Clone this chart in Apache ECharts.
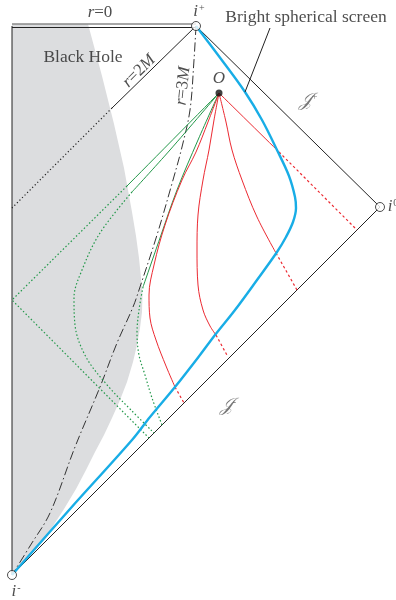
<!DOCTYPE html>
<html>
<head>
<meta charset="utf-8">
<script src="https://cdn.jsdelivr.net/npm/echarts@6/dist/echarts.min.js"></script>
<style>
  html, body { margin: 0; padding: 0; background: #fff; }
  #chart { width: 396px; height: 600px; }
</style>
</head>
<body>
<div id="chart"></div>
<script>
// Penrose diagram of a collapsing star: plane coordinates (x right, y down)

// corners of the conformal diagram
const iPlus = [196, 26];
const iZero = [380, 207];
const iMinus = [12, 575];
const observer = [219, 93];

// boundaries
const centreLine = [[12, 26], [12, 575]];
const singularityUpper = [[12, 24], [196, 24]];
const singularityLower = [[12, 27.5], [196, 27.5]];
const scriPlus = [[196, 26], [380, 207]];
const scriMinus = [[380, 207], [12, 575]];

// star interior (shaded)
const starRegion = [
  [12, 24], [88, 24], [95, 50], [102, 76], [108, 100], [114, 124], [119, 146],
  [124, 168], [128, 190], [132, 212], [136, 236], [139, 258], [141, 278],
  [142.5, 295], [142, 312], [140, 328], [137, 345], [133, 362], [127, 382],
  [120, 400], [112, 418], [104, 435], [95, 452], [86, 470], [76, 489],
  [64, 509], [51, 529], [38, 546], [26, 558], [18, 567], [12, 575]
];

// horizon r = 2M
const horizonOutside = [[196, 26], [112, 108]];
const horizonInside = [[112, 108], [12, 208]];

// photon sphere r = 3M
const photonSphere = [
  [196, 26], [194, 60], [190, 110], [182, 147], [173, 180], [157, 235],
  [140, 287], [133, 307], [117, 343], [100, 387], [75, 447], [50, 513],
  [30, 546], [12, 575]
];

// bright spherical screen
const screenPath = [
  [196, 26], [221, 59], [245, 92], [262, 120], [277, 150], [289, 176],
  [295, 197], [296, 208], [293, 222], [286, 237], [277, 252], [257, 280],
  [235, 310], [215, 335], [200, 355], [175, 387], [150, 417], [132, 440],
  [70, 509], [12, 575]
];

// light rays reaching the observer from the screen (red)
const redRays = [
  { solid: [[219, 93], [279, 152]], dotted: [[279, 152], [357, 230]] },
  { solid: [[219, 93], [226, 122], [232, 150], [242, 180], [257, 217], [276, 253]],
    dotted: [[276, 253], [297, 290]] },
  { solid: [[219, 93], [214, 120], [209, 150], [203, 180], [198, 215], [197, 250],
            [198, 285], [203, 310], [210, 326], [216, 335]],
    dotted: [[216, 335], [228, 357]] },
  { solid: [[219, 93], [208, 122], [196, 152], [182, 180], [165, 225], [154, 265],
            [149, 295], [150, 318], [156, 340], [166, 366], [175, 387]],
    dotted: [[175, 387], [184, 403]] }
];

// light rays passing through the star (green)
const greenRays = [
  { solid: [[219, 93], [127, 186]], dotted: [[127, 186], [12, 300], [149, 438]], smooth: false },
  { solid: [[219, 93], [170, 150], [132, 192]],
    dotted: [[132, 192], [100, 233], [82, 270], [74, 298], [75, 325], [86, 357],
             [108, 386], [131, 410], [154, 433]], smooth: true },
  { solid: [[219, 93], [198, 140], [177, 190], [160, 238], [143, 287]],
    dotted: [[143, 287], [139, 310], [137, 333], [139, 355], [145, 375],
             [152, 398], [162, 425]], smooth: true }
];

// pointer from the caption to the screen
const pointer = [[270, 28], [245, 92]];

const serif = '"Liberation Serif", "DejaVu Serif", serif';
const RED = '#ec2a32';
const GREEN = '#23984a';
const BLUE = '#18ade6';

function path(data, color, width, type, smooth, z) {
  return {
    type: 'line', data: data, symbol: 'none', silent: true,
    smooth: smooth ? 0.35 : false, z: z || 2,
    lineStyle: { color: color, width: width, type: type || 'solid', cap: 'butt' }
  };
}

const series = [];

// shaded star
series.push({
  type: 'custom', silent: true, z: 1,
  data: [[0, 0]],
  renderItem: function (params, api) {
    const pts = starRegion.map(function (p) { return api.coord(p); });
    return { type: 'polygon', shape: { points: pts }, style: { fill: '#dcdddf' } };
  }
});

series.push(path(singularityUpper, '#8a8a8a', 1.4));
series.push(path(singularityLower, '#222', 1));
series.push(path(centreLine, '#222', 1));
series.push(path(scriPlus, '#222', 1));
series.push(path(scriMinus, '#222', 1));
series.push(path(horizonOutside, '#222', 1));
series.push(path(horizonInside, '#222', 1.2, [1.2, 2.4]));
series.push(path(photonSphere, '#333', 1, [9, 3, 1.5, 3], true));

greenRays.forEach(function (r) {
  series.push(path(r.solid, GREEN, 1, 'solid', true, 3));
  series.push(path(r.dotted, GREEN, 1.2, [1.5, 2.2], r.smooth, 3));
});
redRays.forEach(function (r) {
  series.push(path(r.solid, RED, 1, 'solid', true, 3));
  series.push(path(r.dotted, RED, 1.2, [2.5, 2.5], false, 3));
});

series.push(path(screenPath, BLUE, 2.4, 'solid', true, 4));
series.push(path(pointer, '#222', 1, 'solid', false, 4));

// endpoints of the diagram
series.push({
  type: 'scatter', silent: true, z: 6,
  data: [iPlus, iZero, iMinus],
  symbol: 'circle', symbolSize: 9,
  itemStyle: { color: '#fff', borderColor: '#222', borderWidth: 1 }
});
// observer event
series.push({
  type: 'scatter', silent: true, z: 6,
  data: [observer], symbol: 'circle', symbolSize: 7,
  itemStyle: { color: '#111' }
});

// text annotations
const rich = {
  it: { fontFamily: serif, fontStyle: 'italic', fontSize: 17, color: '#222' },
  rm: { fontFamily: serif, fontSize: 17, color: '#222' },
  big: { fontFamily: serif, fontSize: 17.5, color: '#222' },
  sup: { fontFamily: serif, fontSize: 10, color: '#222', verticalAlign: 'top', padding: [0, 0, 8, 1] },
  scr: { fontFamily: '"DejaVu Serif", serif', fontStyle: 'italic', fontSize: 19, color: '#555' },
  supg: { fontFamily: serif, fontSize: 10, color: '#555', padding: [0, 0, 8, 0] }
};
function note(pos, text, opts) {
  return {
    value: pos,
    label: Object.assign({ show: true, position: 'inside', formatter: text, rich: rich }, opts || {})
  };
}
series.push({
  type: 'scatter', silent: true, z: 7, symbolSize: 0,
  label: { show: true, position: 'inside', rich: rich },
  data: [
    note([100, 13], '{it|r}{rm|=0}'),
    note([199, 12], '{it|i}{sup|+}'),
    note([306, 17], '{big|Bright spherical screen}'),
    note([83, 57], '{big|Black Hole}'),
    note([139, 71], '{it|r}{rm|=2}{it|M}', { rotate: 45 }),
    note([183, 86], '{it|r}{rm|=3}{it|M}', { rotate: 84 }),
    note([219, 79], '{it|O}'),
    note([308, 101], '{scr|𝒥}{supg|+}'),
    note([228, 406], '{scr|𝒥}{supg|-}'),
    note([393, 207], '{it|i}{sup|0}'),
    note([16, 592], '{it|i}{sup|-}')
  ]
});

const chart = echarts.init(document.getElementById('chart'), null, { renderer: 'canvas' });
chart.setOption({
  animation: false,
  backgroundColor: '#fff',
  grid: { left: 0, right: 0, top: 0, bottom: 0 },
  xAxis: { type: 'value', min: 0, max: 396, show: false },
  yAxis: { type: 'value', min: 0, max: 600, inverse: true, show: false },
  series: series
});
</script>
</body>
</html>
